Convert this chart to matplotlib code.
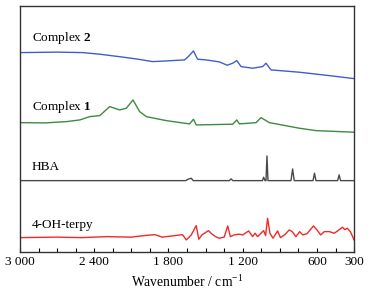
import matplotlib
matplotlib.use("Agg")
import matplotlib.pyplot as plt

plt.rcParams['font.family'] = ['Liberation Serif', 'DejaVu Serif']
plt.rcParams['mathtext.fontset'] = 'custom'
plt.rcParams['mathtext.rm'] = 'Liberation Serif'
plt.rcParams['mathtext.bf'] = 'Liberation Serif:bold'

# spectres décalés verticalement (unités arbitraires)
wn_c2 = [3000, 2700, 2492, 2355, 2200, 2050, 1928, 1800, 1670, 1640, 1598, 1565,
         1495, 1388, 1326, 1281, 1248, 1213, 1120, 1039, 1012, 971, 743, 500, 300]
int_c2 = [199, 199.5, 199, 197.4, 195, 192.5, 190, 190.8, 191.7, 195, 200.7, 192.4,
          191.7, 189.7, 186.4, 188.4, 191, 185, 183.4, 185, 188.4, 181.7, 179.4, 176, 173]

wn_c1 = [3000, 2800, 2624, 2516, 2436, 2355, 2275, 2194, 2140, 2087, 2033, 1979, 1818,
         1630, 1598, 1576, 1281, 1248, 1227, 1092, 1052, 985, 743, 608, 300]
int_c1 = [129, 128.7, 130, 131.7, 135, 136, 145, 141.7, 143.4, 151.7, 140, 135, 131,
          127.7, 132.4, 126.7, 127.4, 131.7, 127.7, 129, 134, 129, 123.4, 121, 119.4]

wn_hba = [3000, 1660, 1640, 1616, 1600, 1310, 1294, 1280, 1040, 1031, 1020, 1012,
          1004, 996, 810, 797, 784, 632, 620, 608, 433, 421, 409, 300]
int_hba = [71, 71, 72.5, 73.4, 71, 71, 72.7, 71, 71, 74.4, 71, 71,
           95.7, 71, 71, 82.7, 71, 71, 78.4, 71, 71, 76.7, 71, 71]

wn_terpy = [3000, 2700, 2500, 2300, 2100, 2000, 1912, 1850, 1750, 1686, 1656, 1616,
            1576, 1555, 1530, 1477, 1450, 1420, 1390, 1350, 1321, 1300, 1270, 1230,
            1200, 1152, 1120, 1100, 1080, 1031, 1015, 999, 980, 955, 918, 895, 860,
            824, 800, 770, 740, 715, 680, 628, 600, 570, 540, 500, 460, 430, 394,
            375, 355, 330, 300]
int_terpy = [14, 14.5, 14, 15, 14.5, 16, 17, 14.5, 16, 17, 11.7, 16.7,
             26, 12.4, 16.7, 21, 17.7, 15, 13.4, 14.5, 25.7, 15, 16.7, 17.5,
             16.7, 20.7, 15, 18.4, 15, 21, 16, 33.4, 18.4, 13.4, 20.7, 14, 17,
             21.7, 20, 15, 20, 16.7, 18, 25.7, 21.7, 16.7, 20, 20, 18.4, 21, 24.4,
             22, 23.4, 20, 11.7]

spectra = [
    (wn_c2, int_c2, '#3d5fcc', r'Complex $\mathbf{2}$', 214),
    (wn_c1, int_c1, '#3f8a3f', r'Complex $\mathbf{1}$', 145),
    (wn_hba, int_hba, '#4a4a4a', 'HBA', 85),
    (wn_terpy, int_terpy, '#f02a2a', '4-OH-terpy', 27),
]

tick_pos = list(range(300, 3001, 150))
tick_lab = {3000: '3 000', 2400: '2 400', 1800: '1 800', 1200: '1 200', 600: '600', 300: '300'}

fig = plt.figure(figsize=(3.7, 2.95), dpi=100)
ax = fig.add_axes([0.054, 0.147, 0.903, 0.834])

for wn, inten, color, label, ylab in spectra:
    ax.plot(wn, inten, color=color, lw=1.0)
    ax.text(2905, ylab, label, fontsize=9.5, va='center', ha='left')

ax.set_xlim(3000, 300)
ax.set_ylim(0, 246)
ax.set_yticks([])
ax.set_xticks(tick_pos)
ax.set_xticklabels([tick_lab.get(t, '') for t in tick_pos], fontsize=9.5)
ax.tick_params(axis='x', direction='in', length=3, width=0.8, pad=3)
ax.set_xlabel('Wavenumber / cm$^{-1}$', fontsize=9.8, labelpad=4)
for s in ax.spines.values():
    s.set_color('#333333')
    s.set_linewidth(1.0)

fig.savefig('out.png', dpi=100)
